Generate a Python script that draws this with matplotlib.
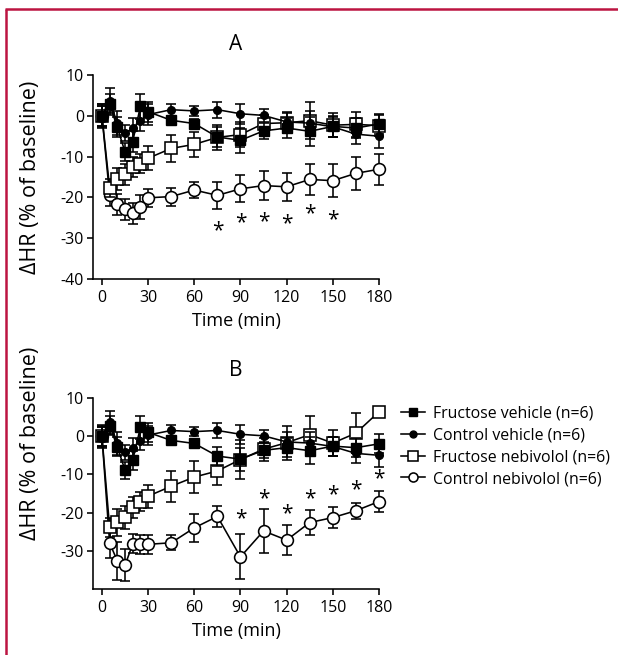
import matplotlib
matplotlib.use("Agg")
import matplotlib.pyplot as plt
from matplotlib.lines import Line2D

plt.rcParams['font.family'] = ['Open Sans', 'DejaVu Sans']

# sampling times (min)
time_min = [0, 5, 10, 15, 20, 25, 30, 45, 60, 75, 90, 105, 120, 135, 150, 165, 180]

# vehicle groups (same in both panels)
fruc_vehicle = [0, 2.8, -2.8, -8.9, -6.3, 2.3, 1.0, -1.1, -1.9, -5.2, -6.0, -3.7, -3.0, -3.8, -2.6, -3.0, -2.0]
fruc_vehicle_err = [2.8, 2.5, 2.5, 2.2, 2.5, 3.0, 2.5, 1.0, 1.0, 2.5, 3.0, 2.0, 2.5, 3.5, 2.5, 2.5, 2.5]
ctrl_vehicle = [0, 3.7, -1.8, -4.2, -3.1, -1.2, 0.3, 1.5, 1.2, 1.5, 0.5, 0.1, -1.5, -1.8, -2.7, -4.5, -5.0]
ctrl_vehicle_err = [3.0, 3.0, 3.0, 2.0, 2.5, 2.5, 2.5, 1.5, 1.2, 2.0, 2.5, 1.5, 2.5, 3.0, 2.5, 2.5, 3.0]

# panel A nebivolol groups
fruc_nebi_a = [0, -17.6, -15.5, -14.3, -12.5, -11.7, -10.4, -8.0, -7.0, -5.3, -4.6, -1.9, -1.7, -1.2, -2.3, -2.1, -2.4]
fruc_nebi_a_err = [2.5, 2.2, 2.6, 2.6, 2.4, 2.3, 3.0, 3.3, 3.1, 3.0, 3.0, 2.0, 2.5, 4.5, 3.0, 3.0, 2.5]
ctrl_nebi_a = [0, -19.4, -21.7, -22.9, -23.9, -22.4, -20.1, -19.8, -18.2, -19.5, -17.9, -17.1, -17.4, -15.6, -15.9, -14.1, -13.1]
ctrl_nebi_a_err = [2.5, 2.7, 2.6, 2.6, 2.6, 2.9, 2.2, 2.2, 2.0, 3.3, 3.3, 3.5, 3.5, 3.7, 4.0, 4.0, 3.8]

# panel B nebivolol groups
fruc_nebi_b = [0, -23.9, -22.5, -21.2, -18.6, -17.2, -15.7, -13.1, -10.7, -9.1, -6.1, -3.4, -1.7, 0.4, -1.8, 0.8, 6.4]
fruc_nebi_b_err = [2.5, 2.5, 3.5, 3.0, 2.8, 2.5, 3.0, 4.0, 4.2, 3.8, 5.0, 3.0, 4.5, 4.8, 3.5, 5.3, 1.0]
ctrl_nebi_b = [0, -28.0, -32.6, -33.8, -28.2, -28.3, -28.3, -27.9, -24.0, -21.0, -31.6, -24.8, -27.2, -22.6, -21.3, -19.5, -17.1]
ctrl_nebi_b_err = [2.5, 4.0, 5.0, 4.2, 2.5, 2.5, 2.5, 2.0, 3.6, 2.8, 5.9, 5.7, 4.0, 3.3, 2.8, 2.1, 2.8]

# significance asterisks
stars_a_x = [75, 90, 105, 120, 135, 150]
stars_a_y = [-28.1, -26.3, -25.9, -26.5, -24.1, -25.4]
stars_b_x = [90, 105, 120, 135, 150, 165, 180]
stars_b_y = [-21.7, -16.3, -20.3, -16.4, -15.4, -13.9, -11.1]

labels = ["Fructose vehicle (n=6)", "Control vehicle (n=6)",
          "Fructose nebivolol (n=6)", "Control nebivolol (n=6)"]

W, H = 618, 655
fig = plt.figure(figsize=(W / 100, H / 100), dpi=100)

def px_axes(left, top, right, bottom):
    return fig.add_axes([left / W, 1 - bottom / H, (right - left) / W, (bottom - top) / H])

ax_a = px_axes(93, 75, 379, 279)
ax_b = px_axes(93, 398, 379, 589)

lw = 1.15
styles = [
    dict(marker='s', ms=7, mfc='black', mec='black'),
    dict(marker='o', ms=5.5, mfc='black', mec='black'),
    dict(marker='s', ms=8.5, mfc='white', mec='black', mew=1.15),
    dict(marker='o', ms=8.5, mfc='white', mec='black', mew=1.15),
]

def draw_panel(ax, series, sx, sy, yticks):
    # draw open markers first, filled ones on top
    for idx in [3, 2, 1, 0]:
        y, err = series[idx]
        eb = ax.errorbar(time_min, y, yerr=err, color='black', lw=lw, elinewidth=lw,
                         capsize=3.4, capthick=lw, clip_on=False, zorder=3 + (3 - idx),
                         **styles[idx])
        for art in eb.lines[1] + eb.lines[2]:
            art.set_clip_on(False)
    for x, y in zip(sx, sy):
        ax.text(x, y, '*', ha='center', va='center', fontsize=15)
    ax.set_xlim(-5.8, 180)
    ax.set_ylim(-40, 10)
    ax.set_xticks([0, 30, 60, 90, 120, 150, 180])
    ax.set_yticks(yticks)
    ax.set_yticklabels([f"{t:d}" if t >= 0 else f"-{abs(t)}" for t in yticks])
    for s in ['top', 'right']:
        ax.spines[s].set_visible(False)
    for s in ['left', 'bottom']:
        ax.spines[s].set_linewidth(lw)
    ax.tick_params(direction='out', length=4, width=lw, labelsize=11.5, pad=2.5)
    ax.tick_params(axis='x', pad=4)
    ax.set_xlabel("Time (min)", fontsize=13, labelpad=4)

draw_panel(ax_a, [(fruc_vehicle, fruc_vehicle_err), (ctrl_vehicle, ctrl_vehicle_err),
                  (fruc_nebi_a, fruc_nebi_a_err), (ctrl_nebi_a, ctrl_nebi_a_err)],
           stars_a_x, stars_a_y, [10, 0, -10, -20, -30, -40])
draw_panel(ax_b, [(fruc_vehicle, fruc_vehicle_err), (ctrl_vehicle, ctrl_vehicle_err),
                  (fruc_nebi_b, fruc_nebi_b_err), (ctrl_nebi_b, ctrl_nebi_b_err)],
           stars_b_x, stars_b_y, [10, 0, -10, -20, -30])

fig.text(236 / W, 1 - 45 / H, "A", ha='center', va='center', fontsize=15)
fig.text(236 / W, 1 - 370 / H, "B", ha='center', va='center', fontsize=15)
fig.text(31 / W, 1 - 177 / H, "ΔHR (% of baseline)", rotation=90, ha='center', va='center', fontsize=15.5)
fig.text(31 / W, 1 - 443 / H, "ΔHR (% of baseline)", rotation=90, ha='center', va='center', fontsize=15.5)

# legend
handles = [Line2D([], [], color='black', lw=lw, **st) for st in styles]
handles[0].set_markersize(5.5)
handles[1].set_markersize(5)
handles[2].set_markersize(6.5)
handles[3].set_markersize(6.5)
fig.legend(handles, labels, loc='upper left', bbox_to_anchor=(393 / W, 1 - 398 / H),
           frameon=False, fontsize=11.4, handlelength=1.5, handletextpad=0.55,
           labelspacing=0.36, borderpad=0)

# red frame
red = '#BC1441'
fig.add_artist(Line2D([5.5 / W, 5.5 / W], [0, 1 - 8.5 / H], color=red, lw=1.8,
                      transform=fig.transFigure, solid_capstyle='butt'))
fig.add_artist(Line2D([4.6 / W, 1], [1 - 8.5 / H, 1 - 8.5 / H], color=red, lw=1.8,
                      transform=fig.transFigure, solid_capstyle='butt'))

fig.savefig("out.png", dpi=100)
